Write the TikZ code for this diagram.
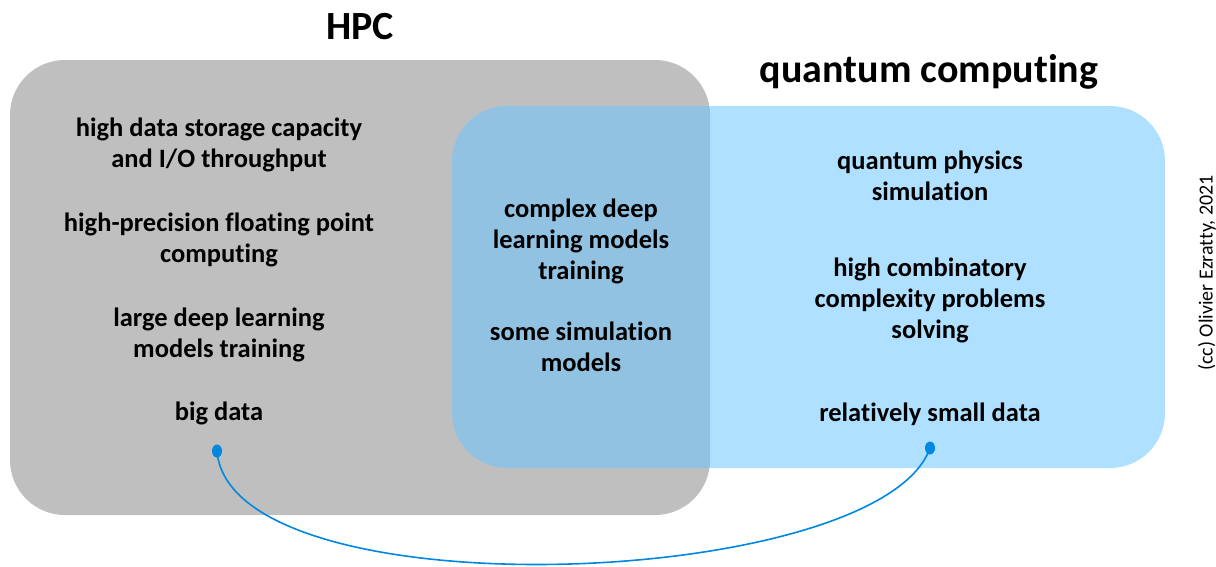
\documentclass[tikz,border=0pt]{standalone}
\usepackage{fontspec}
\setmainfont{Carlito}[Ligatures={NoCommon}]
\usetikzlibrary{shapes.geometric}
\definecolor{hpcgray}{RGB}{191,191,191}
\definecolor{qblue}{RGB}{110,198,255}
\definecolor{linkblue}{RGB}{0,136,224}
\tikzset{
  venn/.style={rounded corners=55pt, inner sep=0pt},
  item/.style={align=center, font=\fontsize{26.5}{31}\selectfont\bfseries, inner sep=0pt, text=black},
  title/.style={font=\fontsize{40}{46}\selectfont\bfseries, inner sep=0pt},
  dot/.style={ellipse, fill=linkblue, minimum width=10pt, minimum height=13pt, inner sep=0pt},
}
\begin{document}
\begin{tikzpicture}[x=1pt,y=-1pt]
\useasboundingbox (0,0) rectangle (1216,566);
\node[venn, fill=hpcgray, minimum width=700pt, minimum height=455pt] (hpcbox) at (360,287.5) {};
\node[venn, fill=qblue, fill opacity=0.55, minimum width=713pt, minimum height=362pt] (qbox) at (808.5,287) {};
\node[title] (hpc) at (360,27) {HPC};
\node[title] (qc) at (929,72) {quantum computing};
\node[item] (l1) at (219,144.5) {high data storage capacity\\and I/O throughput};
\node[item] (l2) at (219,239.5) {high-precision floating point\\computing};
\node[item] (l3) at (219,334.5) {large deep learning\\models training};
\node[item] (l4) at (219,413) {big data};
\node[item] (m1) at (581,241.5) {complex deep\\learning models\\training};
\node[item] (m2) at (581,346.5) {some simulation\\models};
\node[item] (r1) at (930,176) {quantum physics\\simulation};
\node[item] (r2) at (930,300.5) {high combinatory\\complexity problems\\solving};
\node[item] (r3) at (930,414) {relatively small data};
\node[rotate=90, font=\fontsize{20}{22}\selectfont, inner sep=0pt] (cc) at (1207,273) {(cc) Olivier Ezratty, 2021};
\node[dot] (d1) at (217,451) {};
\node[dot] (d2) at (930,448) {};
\draw[linkblue, line width=1.6pt] (d1.center) .. controls (230,615) and (880,590) .. (d2.center);
\end{tikzpicture}
\end{document}
